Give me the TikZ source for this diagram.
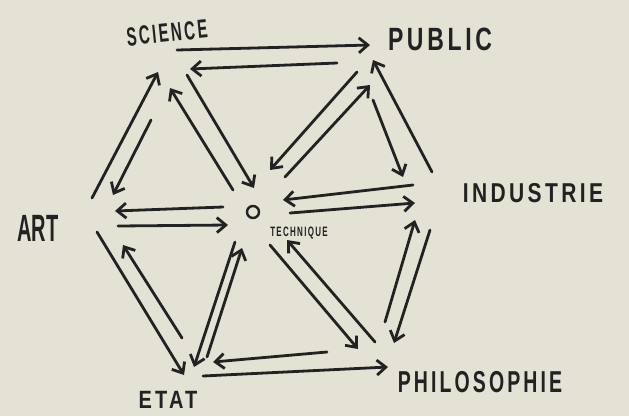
\documentclass[tikz,border=0pt]{standalone}
\usepackage{fontspec}
\usepackage{graphicx}
\setmainfont{Liberation Sans}
\newfontfamily\handfont[LetterSpace=16]{Liberation Sans}
\usetikzlibrary{arrows.meta}
\definecolor{paper}{HTML}{E4E2D4}
\definecolor{ink}{HTML}{222222}
\newcommand{\tall}[2]{\scalebox{1}[#1]{#2}}
\begin{document}
\begin{tikzpicture}[x=1pt,y=-1pt,
  arr/.style={draw=ink, line width=2.8pt, line cap=round, line join=round,
    -{Straight Barb[length=9pt,width=15pt]}},
  lab/.style={text=ink, inner sep=0pt}]
\fill[paper] (0,0) rectangle (629,416);
\useasboundingbox (0,0) rectangle (629,416);
% labels
\node[lab, font=\handfont\bfseries\fontsize{15}{15}\selectfont, rotate=6] (sci) at (167,33) {\tall{1.75}{SCIENCE}};
\node[lab, font=\handfont\bfseries\fontsize{23}{23}\selectfont] (pub) at (440,39) {\tall{1.4}{PUBLIC}};
\node[lab, font=\handfont\bfseries\fontsize{21}{21}\selectfont] (ind) at (533,193) {\tall{1.3}{INDUSTRIE}};
\node[lab, font=\handfont\bfseries\fontsize{19.5}{19.5}\selectfont] (phi) at (480,382) {\tall{1.55}{PHILOSOPHIE}};
\node[lab, font=\handfont\bfseries\fontsize{20}{20}\selectfont] (eta) at (168,400) {\tall{1.25}{ETAT}};
\node[lab, font=\bfseries\fontsize{20}{20}\selectfont] (art) at (38,228) {\tall{1.9}{ART}};
\node[lab, font=\handfont\bfseries\fontsize{8}{8}\selectfont] (tecL) at (299,233) {\tall{1.7}{TECHNIQUE}};
\node[draw=ink, line width=2.4pt, circle, minimum size=12pt, inner sep=0pt] (tec) at (253,212) {};
% hubs
\coordinate (sciH) at (180,68);
\coordinate (pubH) at (372,55);
\coordinate (indH) at (420,200);
\coordinate (phiH) at (385,355);
\coordinate (etaH) at (195,370);
\coordinate (artH) at (105,220);
\coordinate (tecH) at (253,212);
% science - public
\draw[arr] ([shift={(-3,-18)}]sciH) -- ([shift={(-2,-10)}]pubH);
\draw[arr] ([shift={(-35,8)}]pubH) -- ([shift={(10,1)}]sciH);
% art - science
\draw[arr] ([shift={(-13,-22)}]artH) -- ([shift={(-22,4)}]sciH);
\draw[arr] ([shift={(-29,52)}]sciH) -- ([shift={(8,-25)}]artH);
% technique - science
\draw[arr] ([shift={(-20,-22)}]tecH) -- ([shift={(-10,20)}]sciH);
\draw[arr] ([shift={(7,7)}]sciH) -- ([shift={(1,-24)}]tecH);
% public - technique
\draw[arr] ([shift={(-15,17)}]pubH) -- ([shift={(17,-42)}]tecH);
\draw[arr] ([shift={(32,-35)}]tecH) -- ([shift={(-2,30)}]pubH);
% public - industrie
\draw[arr] ([shift={(1,45)}]pubH) -- ([shift={(-17,-23)}]indH);
\draw[arr] ([shift={(12,-28)}]indH) -- ([shift={(1,5)}]pubH);
% industrie - technique
\draw[arr] ([shift={(-7,-15)}]indH) -- ([shift={(30,-12)}]tecH);
\draw[arr] ([shift={(37,1)}]tecH) -- ([shift={(-5,3)}]indH);
% art - technique
\draw[arr] ([shift={(-30,-5)}]tecH) -- ([shift={(10,-9)}]artH);
\draw[arr] ([shift={(13,6)}]artH) -- ([shift={(-25,13)}]tecH);
% art - etat
\draw[arr] ([shift={(-8,12)}]artH) -- ([shift={(-11,5)}]etaH);
\draw[arr] ([shift={(-13,-32)}]etaH) -- ([shift={(18,25)}]artH);
% technique - etat
\draw[arr] ([shift={(-18,30)}]tecH) -- ([shift={(-1,-3)}]etaH);
\draw[arr] ([shift={(12,-13)}]etaH) -- ([shift={(-11,36)}]tecH);
% etat - philosophie
\draw[arr] ([shift={(-58,-3)}]phiH) -- ([shift={(18,-8)}]etaH);
\draw[arr] ([shift={(8,6)}]etaH) -- ([shift={(3,12)}]phiH);
% technique - philosophie
\draw[arr] ([shift={(17,33)}]tecH) -- ([shift={(-27,-6)}]phiH);
\draw[arr] ([shift={(-10,-13)}]phiH) -- ([shift={(34,28)}]tecH);
% industrie - philosophie
\draw[arr] ([shift={(0,-33)}]phiH) -- ([shift={(-5,20)}]indH);
\draw[arr] ([shift={(10,30)}]indH) -- ([shift={(9,-12)}]phiH);
\end{tikzpicture}
\end{document}
